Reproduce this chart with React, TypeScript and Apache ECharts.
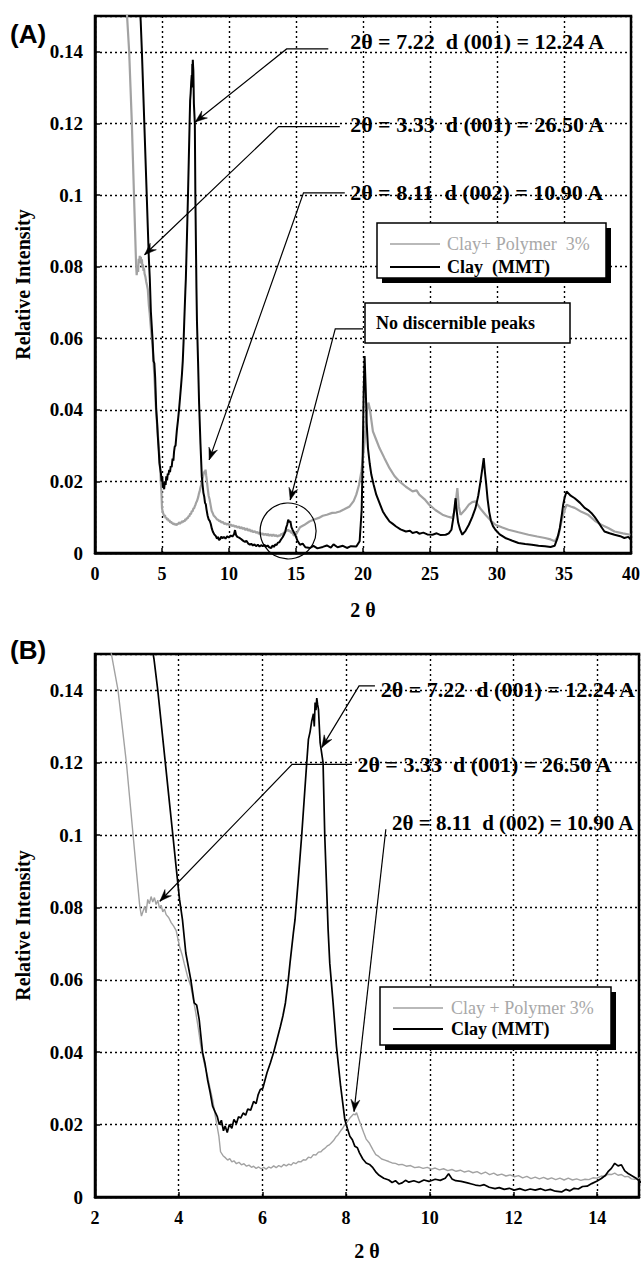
import React, { useEffect, useRef } from "react";
import * as echarts from "echarts";

// Clay (MMT) – black curve: [2θ, relative intensity]
const clayMMT: [number, number][] = [
  [3.3, 0.156], [3.41, 0.1486], [3.5, 0.14], [3.59, 0.13], [3.68, 0.12], [3.77, 0.11], [3.86, 0.1], [3.94, 0.091],
  [4.02, 0.0822], [4.09, 0.0766], [4.17, 0.0674], [4.29, 0.06], [4.37, 0.0536], [4.43, 0.053], [4.49, 0.049],
  [4.57, 0.04], [4.63, 0.0368], [4.69, 0.0324], [4.75, 0.029], [4.81, 0.0251], [4.87, 0.0235], [4.92, 0.0223],
  [4.97, 0.02], [5.02, 0.0212], [5.07, 0.0183], [5.11, 0.0196], [5.16, 0.0178], [5.21, 0.02], [5.27, 0.019],
  [5.32, 0.0214], [5.38, 0.0203], [5.43, 0.0222], [5.48, 0.0218], [5.54, 0.0232], [5.6, 0.0226], [5.65, 0.0243],
  [5.72, 0.024], [5.79, 0.0264], [5.85, 0.0258], [5.9, 0.0283], [5.95, 0.0297], [6.01, 0.03], [6.06, 0.0322],
  [6.11, 0.0343], [6.19, 0.037], [6.27, 0.04], [6.35, 0.0435], [6.43, 0.0471], [6.49, 0.05], [6.55, 0.0536],
  [6.61, 0.059], [6.66, 0.0646], [6.74, 0.0729], [6.78, 0.0766], [6.86, 0.088], [6.94, 0.1], [7.0, 0.11],
  [7.06, 0.12], [7.1, 0.1264], [7.14, 0.1285], [7.18, 0.1315], [7.22, 0.1335], [7.24, 0.13], [7.26, 0.1366],
  [7.28, 0.1345], [7.3, 0.1378], [7.32, 0.136], [7.34, 0.1347], [7.38, 0.1255], [7.45, 0.12], [7.49, 0.1],
  [7.53, 0.087], [7.57, 0.074], [7.61, 0.0646], [7.69, 0.0536], [7.77, 0.0416], [7.87, 0.0306], [7.97, 0.0214],
  [8.03, 0.019], [8.09, 0.0168], [8.15, 0.0158], [8.21, 0.014], [8.27, 0.0136], [8.32, 0.0122], [8.4, 0.0105],
  [8.48, 0.0094], [8.56, 0.009], [8.64, 0.0081], [8.72, 0.0068], [8.79, 0.006], [8.9, 0.0052], [9.02, 0.0047],
  [9.1, 0.004], [9.18, 0.0045], [9.26, 0.0036], [9.34, 0.0039], [9.42, 0.0046], [9.5, 0.0041], [9.62, 0.0045],
  [9.74, 0.004], [9.86, 0.0047], [9.98, 0.0043], [10.13, 0.0049], [10.25, 0.0046], [10.37, 0.0052], [10.45, 0.0064],
  [10.53, 0.005], [10.62, 0.0045], [10.75, 0.0043], [10.9, 0.0039], [11.0, 0.0036], [11.09, 0.0033], [11.2, 0.0031],
  [11.3, 0.0034], [11.42, 0.0027], [11.56, 0.0023], [11.66, 0.0026], [11.78, 0.0021], [11.9, 0.0024], [12.02, 0.0019],
  [12.15, 0.0023], [12.28, 0.0018], [12.4, 0.0022], [12.52, 0.0019], [12.65, 0.0023], [12.76, 0.0018], [12.88, 0.0021],
  [13.0, 0.0016], [13.15, 0.0014], [13.25, 0.0021], [13.35, 0.0017], [13.45, 0.0024], [13.55, 0.0022], [13.65, 0.0029],
  [13.76, 0.003], [13.87, 0.0037], [14.0, 0.0044], [14.1, 0.0051], [14.2, 0.006], [14.26, 0.007], [14.34, 0.0079],
  [14.42, 0.0093], [14.5, 0.0086], [14.58, 0.0089], [14.66, 0.0072], [14.74, 0.0065], [14.84, 0.0058], [14.94, 0.0051],
  [15.1, 0.0035], [15.3, 0.0023], [15.5, 0.0026], [15.7, 0.0016], [16.05, 0.0014], [16.3, 0.002], [16.6, 0.0013],
  [17.0, 0.0017], [17.3, 0.0021], [17.6, 0.0015], [17.8, 0.0024], [18.1, 0.0016], [18.5, 0.002], [18.8, 0.0014],
  [19.1, 0.0019], [19.5, 0.0018], [19.75, 0.0033], [19.9, 0.012], [19.97, 0.025], [20.05, 0.045], [20.12, 0.055],
  [20.2, 0.046], [20.28, 0.036], [20.37, 0.0293], [20.5, 0.025], [20.62, 0.0219], [20.8, 0.019], [20.99, 0.0163],
  [21.25, 0.0138], [21.48, 0.0116], [21.75, 0.01], [21.98, 0.0088], [22.2, 0.0082], [22.47, 0.0074], [22.8, 0.0066],
  [23.2, 0.006], [23.5, 0.0062], [23.7, 0.0056], [24.0, 0.0059], [24.2, 0.0054], [24.5, 0.0057], [24.8, 0.0052],
  [25.19, 0.0051], [25.5, 0.0055], [25.8, 0.005], [26.17, 0.0051], [26.4, 0.0055], [26.6, 0.0065], [26.75, 0.01],
  [26.91, 0.0153], [27.0, 0.0115], [27.1, 0.0085], [27.25, 0.0065], [27.41, 0.0051], [27.65, 0.0062], [27.9, 0.0079],
  [28.15, 0.01], [28.4, 0.0126], [28.6, 0.016], [28.77, 0.02], [28.92, 0.024], [29.01, 0.0265], [29.1, 0.0225],
  [29.2, 0.019], [29.3, 0.015], [29.42, 0.0115], [29.55, 0.009], [29.7, 0.0075], [29.88, 0.0065], [30.2, 0.0052],
  [30.62, 0.0042], [31.1, 0.0035], [31.6, 0.0028], [32.1, 0.0025], [32.6, 0.0023], [33.1, 0.002], [33.58, 0.0019],
  [34.0, 0.0017], [34.3, 0.002], [34.5, 0.004], [34.69, 0.007], [34.85, 0.011], [34.94, 0.0135], [35.05, 0.0155],
  [35.19, 0.0172], [35.5, 0.016], [35.8, 0.0153], [36.2, 0.014], [36.54, 0.0126], [36.8, 0.012], [37.04, 0.0112],
  [37.3, 0.01], [37.53, 0.0088], [37.8, 0.0072], [38.02, 0.006], [38.4, 0.0055], [38.77, 0.0051], [39.2, 0.0047],
  [39.5, 0.0042], [39.8, 0.0045], [40.0, 0.0037],
];

// Clay + Polymer 3% – grey curve: [2θ, relative intensity]
const clayPolymer: [number, number][] = [
  [2.3, 0.156], [2.4, 0.1495], [2.55, 0.14], [2.65, 0.13], [2.75, 0.12], [2.83, 0.11], [2.91, 0.1], [2.99, 0.09],
  [3.07, 0.0803], [3.11, 0.0776], [3.15, 0.079], [3.19, 0.0803], [3.22, 0.0785], [3.26, 0.0822], [3.3, 0.081],
  [3.34, 0.083], [3.38, 0.0815], [3.42, 0.0827], [3.46, 0.0808], [3.5, 0.082], [3.54, 0.0798], [3.58, 0.0806],
  [3.62, 0.0788], [3.66, 0.0795], [3.7, 0.078], [3.76, 0.0772], [3.82, 0.0758], [3.88, 0.0748], [3.94, 0.0736],
  [4.02, 0.0692], [4.08, 0.067], [4.13, 0.0646], [4.21, 0.061], [4.29, 0.0582], [4.35, 0.0545], [4.41, 0.0508],
  [4.47, 0.0465], [4.53, 0.0416], [4.61, 0.037], [4.69, 0.0333], [4.75, 0.03], [4.81, 0.0269], [4.89, 0.0214],
  [4.96, 0.0168], [5.0, 0.0125], [5.06, 0.0114], [5.12, 0.0108], [5.17, 0.0102], [5.22, 0.0106], [5.27, 0.0097],
  [5.32, 0.01], [5.38, 0.0092], [5.44, 0.0096], [5.5, 0.0089], [5.56, 0.0092], [5.62, 0.0085], [5.68, 0.0088],
  [5.74, 0.0082], [5.79, 0.0085], [5.85, 0.0079], [5.91, 0.0083], [5.97, 0.0078], [6.03, 0.0082], [6.09, 0.0077],
  [6.15, 0.0083], [6.21, 0.008], [6.27, 0.0086], [6.33, 0.0081], [6.39, 0.0087], [6.45, 0.0083], [6.51, 0.009],
  [6.57, 0.0086], [6.63, 0.0091], [6.69, 0.0088], [6.74, 0.0095], [6.8, 0.0092], [6.86, 0.0098], [6.92, 0.0097],
  [6.98, 0.0103], [7.04, 0.0102], [7.1, 0.011], [7.16, 0.0108], [7.22, 0.0117], [7.28, 0.0116], [7.34, 0.0124],
  [7.4, 0.0125], [7.45, 0.0131], [7.5, 0.0135], [7.55, 0.0141], [7.6, 0.0144], [7.65, 0.015], [7.7, 0.0156],
  [7.75, 0.0165], [7.81, 0.0172], [7.87, 0.0183], [7.92, 0.019], [7.97, 0.02], [8.03, 0.0208], [8.09, 0.0218],
  [8.13, 0.0223], [8.18, 0.0229], [8.22, 0.0227], [8.25, 0.0233], [8.3, 0.0216], [8.36, 0.0197], [8.42, 0.0178],
  [8.48, 0.016], [8.55, 0.015], [8.64, 0.0131], [8.71, 0.0117], [8.78, 0.0112], [8.85, 0.0105], [8.93, 0.0102],
  [9.02, 0.0098], [9.1, 0.0094], [9.18, 0.0093], [9.26, 0.0089], [9.34, 0.009], [9.44, 0.0085], [9.54, 0.0087],
  [9.64, 0.0081], [9.74, 0.0083], [9.84, 0.0079], [9.94, 0.0082], [10.04, 0.0077], [10.13, 0.008], [10.23, 0.0075],
  [10.33, 0.0078], [10.43, 0.0073], [10.53, 0.0076], [10.63, 0.0071], [10.73, 0.0074], [10.83, 0.0069], [10.93, 0.0072],
  [11.03, 0.0067], [11.13, 0.007], [11.23, 0.0064], [11.33, 0.0069], [11.43, 0.0062], [11.53, 0.0066], [11.62, 0.006],
  [11.72, 0.0063], [11.82, 0.0058], [11.92, 0.0061], [12.02, 0.0056], [12.12, 0.0059], [12.22, 0.0053], [12.32, 0.0057],
  [12.42, 0.0051], [12.52, 0.0055], [12.62, 0.005], [12.72, 0.0054], [12.82, 0.0049], [12.91, 0.0053], [13.01, 0.0048],
  [13.11, 0.0052], [13.21, 0.0047], [13.31, 0.0052], [13.41, 0.0047], [13.51, 0.005], [13.61, 0.0046], [13.71, 0.0049],
  [13.8, 0.0048], [13.9, 0.0053], [14.0, 0.0052], [14.1, 0.0058], [14.18, 0.0057], [14.26, 0.0063], [14.34, 0.0062],
  [14.42, 0.0066], [14.5, 0.006], [14.58, 0.0062], [14.66, 0.0056], [14.74, 0.0057], [14.82, 0.005], [14.9, 0.0049],
  [15.0, 0.0052], [15.3, 0.0072], [15.6, 0.0078], [16.0, 0.0088], [16.3, 0.0093], [16.7, 0.0098], [17.0, 0.0104],
  [17.3, 0.0107], [17.7, 0.0112], [18.0, 0.0113], [18.27, 0.0116], [18.6, 0.0122], [19.0, 0.013], [19.3, 0.0145],
  [19.5, 0.0163], [19.7, 0.019], [19.88, 0.0228], [20.0, 0.027], [20.12, 0.031], [20.25, 0.0386], [20.4, 0.042],
  [20.5, 0.0405], [20.74, 0.034], [21.0, 0.0315], [21.23, 0.0293], [21.6, 0.0265], [21.98, 0.0237], [22.35, 0.0215],
  [22.72, 0.02], [23.2, 0.0185], [23.7, 0.0172], [24.0, 0.0175], [24.2, 0.0163], [24.6, 0.015], [24.94, 0.0135],
  [25.4, 0.012], [25.93, 0.0107], [26.3, 0.0102], [26.67, 0.0098], [26.85, 0.012], [27.04, 0.0181], [27.15, 0.013],
  [27.28, 0.0107], [27.6, 0.012], [27.9, 0.0135], [28.15, 0.0142], [28.4, 0.0144], [28.8, 0.0122], [29.14, 0.0107],
  [29.5, 0.0092], [29.88, 0.0079], [30.4, 0.0071], [30.86, 0.0065], [31.6, 0.0058], [32.35, 0.0051], [33.0, 0.0046],
  [33.58, 0.0042], [34.0, 0.0038], [34.32, 0.0033], [34.6, 0.005], [34.81, 0.0088], [35.0, 0.0115], [35.19, 0.0135],
  [35.5, 0.013], [35.8, 0.0126], [36.3, 0.0115], [36.79, 0.0107], [37.3, 0.009], [37.78, 0.0079], [38.3, 0.007],
  [38.77, 0.006], [39.4, 0.0055], [39.95, 0.0051],
];

// Series names as printed in each panel's legend
const namesA = ["Clay+ Polymer  3%", "Clay  (MMT)"];
const namesB = ["Clay + Polymer 3%", "Clay (MMT)"];
const seriesColors = ["#a2a2a2", "#000000"];

// Axis ranges
const xRangeA = { min: 0, max: 40, interval: 5 };
const xRangeB = { min: 2, max: 15, interval: 2 };
const yRange = { min: 0, max: 0.15, interval: 0.02 };

// Annotations (data coordinates): label anchor, leader path ending at arrow tip
const annotationsA = [
  { text: "2θ = 7.22  d (001) = 12.24 A", at: [19.04, 0.1428], size: 22, path: [[17.41, 0.1408], [14.3, 0.1408], [7.48, 0.1204]] },
  { text: "2θ = 3.33  d (001) = 26.50 A", at: [19.04, 0.1196], size: 22, path: [[18.27, 0.1191], [13.7, 0.1191], [3.7, 0.0833]] },
  { text: "2θ = 8.11  d (002) = 10.90 A", at: [19.04, 0.1007], size: 22, path: [[18.64, 0.1006], [15.56, 0.1006], [8.52, 0.026]] },
  { text: "", at: [0, 0], size: 22, path: [[20.0, 0.0626], [17.93, 0.0626], [14.57, 0.0148]] },
];
const annotationsB = [
  { text: "2θ = 7.22  d (001) = 12.24 A", at: [8.83, 0.1403], size: 22, path: [[8.69, 0.1412], [8.31, 0.1412], [7.42, 0.1242]] },
  { text: "2θ = 3.33  d (001) = 26.50 A", at: [8.27, 0.1195], size: 22, path: [[8.14, 0.1195], [6.71, 0.1195], [3.55, 0.0817]] },
  { text: "2θ = 8.11  d (002) = 10.90 A", at: [9.1, 0.1034], size: 21, path: [[8.95, 0.1016], [8.19, 0.0236]] },
];
const circleA = { center: [14.41, 0.00615], r: 28 };

const SERIF = "Liberation Serif";
const SANS = "Liberation Sans";

const fmt = (v: number) => `{t|${parseFloat(v.toFixed(4))}}`;
const richOf = (size: number) => ({ t: { fontFamily: SERIF, fontWeight: "bold", fontSize: size, color: "#000" } });

function xAxisCfg(grid: number, r: any, nameGap: number) {
  return {
    gridIndex: grid,
    type: "value",
    min: r.min,
    max: r.max,
    interval: r.interval,
    name: "{n|2 θ}",
    nameLocation: "middle",
    nameGap,
    nameTextStyle: { fontFamily: SERIF, fontWeight: "bold", fontSize: 20, color: "#000", rich: { n: { fontFamily: SERIF, fontWeight: "bold", fontSize: 20, color: "#000" } } },
    axisLine: { show: true, onZero: false, lineStyle: { color: "#000", width: 2.5 } },
    axisTick: { show: true, inside: true, length: 5, lineStyle: { color: "#000", width: 1.5 } },
    axisLabel: {
      color: "#000", fontFamily: SERIF, fontWeight: "bold", fontSize: 18, margin: 12,
      formatter: fmt, rich: richOf(18),
      showMaxLabel: r.max % r.interval === 0,
    },
    splitLine: { show: true, lineStyle: { color: "#000", width: 1.4, type: [2, 3] } },
  };
}

function yAxisCfg(grid: number) {
  return {
    gridIndex: grid,
    type: "value",
    min: yRange.min,
    max: yRange.max,
    interval: yRange.interval,
    name: "Relative Intensity",
    nameLocation: "middle",
    nameGap: 62,
    nameTextStyle: { fontFamily: SERIF, fontWeight: "bold", fontSize: 20, color: "#000" },
    axisLine: { show: true, onZero: false, lineStyle: { color: "#000", width: 2.5 } },
    axisTick: { show: true, inside: true, length: 5, lineStyle: { color: "#000", width: 1.5 } },
    axisLabel: {
      color: "#000", fontFamily: SERIF, fontWeight: "bold", fontSize: 19, margin: 12, showMaxLabel: false,
      formatter: fmt, rich: richOf(19),
    },
    splitLine: { show: true, lineStyle: { color: "#000", width: 1.4, type: [2, 3] } },
  };
}

export default function App() {
  const ref = useRef<HTMLDivElement>(null);

  useEffect(() => {
    document.body.style.margin = "0";
    const chart = echarts.init(ref.current as HTMLDivElement, null, { renderer: "svg" });

    const line = (name: string, data: any, idx: number, color: string, width: number, z: number) => ({
      type: "line", name, data, xAxisIndex: idx, yAxisIndex: idx, symbol: "none", showSymbol: false,
      lineStyle: { color, width }, itemStyle: { color }, z, silent: true,
    });

    chart.setOption({
      animation: false,
      backgroundColor: "#fff",
      textStyle: { fontFamily: SERIF, fontWeight: "bold", fontSize: 17, color: "#000" },
      grid: [
        { left: 95, top: 16, width: 540, height: 537, show: true, borderColor: "#000", borderWidth: 2.5, containLabel: false },
        { left: 95, top: 654, width: 544, height: 543, show: true, borderColor: "#000", borderWidth: 2.5, containLabel: false },
      ],
      xAxis: [xAxisCfg(0, xRangeA, 47), xAxisCfg(1, xRangeB, 44)],
      yAxis: [yAxisCfg(0), yAxisCfg(1)],
      series: [
        line(namesA[0], clayPolymer, 0, seriesColors[0], 2.2, 2),
        line(namesA[1], clayMMT, 0, seriesColors[1], 2, 3),
        line(namesB[0], clayPolymer, 1, seriesColors[0], 1.4, 2),
        line(namesB[1], clayMMT, 1, seriesColors[1], 1.7, 3),
      ],
    });

    const px = (g: number, p: number[]) => chart.convertToPixel({ gridIndex: g }, p) as number[];

    const arrowHead = (from: number[], tip: number[]) => {
      const dx = tip[0] - from[0];
      const dy = tip[1] - from[1];
      const len = Math.hypot(dx, dy) || 1;
      const ux = dx / len, uy = dy / len;
      const L = 12, W = 4.5;
      const bx = tip[0] - ux * L, by = tip[1] - uy * L;
      const nx = tip[0] - ux * L * 0.65, ny = tip[1] - uy * L * 0.65;
      return {
        type: "polygon", z: 20,
        shape: { points: [tip, [bx - uy * W, by + ux * W], [nx, ny], [bx + uy * W, by - ux * W]] },
        style: { fill: "#000", stroke: "#000", lineWidth: 0.5 },
      };
    };

    const graphics: any[] = [];
    const addAnnotations = (g: number, list: any[]) => {
      list.forEach((a) => {
        const pts = a.path.map((p: number[]) => px(g, p));
        graphics.push({ type: "polyline", z: 20, shape: { points: pts }, style: { stroke: "#000", lineWidth: 1.2, fill: "none" } });
        graphics.push(arrowHead(pts[pts.length - 2], pts[pts.length - 1]));
        if (a.text) {
          const t = px(g, a.at);
          graphics.push({
            type: "text", z: 20, x: t[0], y: t[1],
            style: { text: a.text, fill: "#000", fontFamily: SERIF, fontWeight: "bold", fontSize: a.size, align: "left", verticalAlign: "middle" },
          });
        }
      });
    };
    addAnnotations(0, annotationsA);
    addAnnotations(1, annotationsB);

    const c = px(0, circleA.center);
    graphics.push({ type: "circle", z: 20, shape: { cx: c[0], cy: c[1], r: circleA.r }, style: { fill: "none", stroke: "#000", lineWidth: 1.2 } });

    // "No discernible peaks" box
    graphics.push({ type: "rect", z: 15, shape: { x: 365, y: 303, width: 205, height: 40 }, style: { fill: "#fff", stroke: "#000", lineWidth: 1.5 } });
    graphics.push({
      type: "text", z: 21, x: 376, y: 323,
      style: { text: "No discernible peaks", fill: "#000", fontFamily: SERIF, fontWeight: "bold", fontSize: 18, align: "left", verticalAlign: "middle" },
    });

    // Legend boxes with drop shadows, line samples and labels
    const legend = (names: string[], x: number, y: number, w: number, h: number, lineX: number, textX: number, rows: number[]) => {
      graphics.push({ type: "rect", z: 5, shape: { x: x + 5, y: y + 5, width: w, height: h }, style: { fill: "#000" } });
      graphics.push({ type: "rect", z: 6, shape: { x, y, width: w, height: h }, style: { fill: "#fff", stroke: "#000", lineWidth: 1.5 } });
      names.forEach((n, i) => {
        graphics.push({ type: "line", z: 7, shape: { x1: lineX, y1: rows[i], x2: lineX + 50, y2: rows[i] }, style: { stroke: seriesColors[i], lineWidth: i === 0 ? 1.5 : 2 } });
        graphics.push({
          type: "text", z: 7, x: textX, y: rows[i],
          style: { text: n, fill: i === 0 ? "#a8a8a8" : "#000", fontFamily: SERIF, fontWeight: i === 0 ? "normal" : "bold", fontSize: 18, align: "left", verticalAlign: "middle" },
        });
      });
    };
    legend(namesA, 377, 223, 229, 55, 390, 447, [244, 267]);
    legend(namesB, 380, 987, 231, 58, 393, 451, [1008, 1029]);

    // Panel labels
    graphics.push({ type: "text", z: 20, x: 10, y: 34, style: { text: "(A)", fill: "#000", fontFamily: SANS, fontWeight: "bold", fontSize: 26, align: "left", verticalAlign: "middle" } });
    graphics.push({ type: "text", z: 20, x: 10, y: 650, style: { text: "(B)", fill: "#000", fontFamily: SANS, fontWeight: "bold", fontSize: 26, align: "left", verticalAlign: "middle" } });

    chart.setOption({ graphic: graphics });

    return () => chart.dispose();
  }, []);

  return <div ref={ref} style={{ position: "absolute", left: 0, top: 0, width: 643, height: 1264 }} />;
}
